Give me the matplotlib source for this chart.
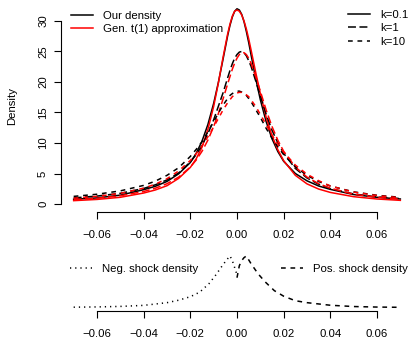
import matplotlib
matplotlib.use("Agg")
import matplotlib.pyplot as plt

plt.rcParams['font.family'] = ['Liberation Sans', 'DejaVu Sans']
plt.rcParams['font.size'] = 8.2

x = [-0.07, -0.06, -0.05, -0.04, -0.035, -0.03, -0.025, -0.02, -0.0175, -0.015,
     -0.0125, -0.01, -0.008, -0.006, -0.004, -0.003, -0.002, -0.001, 0.0, 0.001,
     0.002, 0.003, 0.004, 0.005, 0.006, 0.008, 0.01, 0.0125, 0.015, 0.0175,
     0.02, 0.025, 0.03, 0.035, 0.04, 0.05, 0.06, 0.07]

# our density, k = 0.1 / 1 / 10
our_k01 = [0.78, 1.0, 1.45, 2.35, 2.9, 3.7, 4.95, 6.8, 8.3, 10.3,
           13.0, 16.5, 19.9, 23.7, 27.6, 29.3, 30.65, 31.6, 32.0, 31.8,
           31.1, 29.9, 28.3, 26.5, 24.5, 20.6, 17.1, 13.5, 10.7, 8.6,
           7.0, 5.0, 3.8, 2.95, 2.4, 1.55, 1.1, 0.82]
our_k1 = [1.0, 1.3, 1.75, 2.55, 3.15, 3.95, 5.1, 6.9, 8.1, 9.6,
          11.5, 13.8, 16.0, 18.2, 20.7, 21.9, 23.0, 23.9, 24.5, 24.9,
          25.0, 24.8, 24.3, 23.5, 22.6, 20.2, 17.7, 14.7, 12.1, 10.0,
          8.3, 5.83, 4.27, 3.23, 2.52, 1.65, 1.15, 0.9]
our_k10 = [1.25, 1.6, 2.15, 3.05, 3.75, 4.7, 5.95, 7.8, 8.95, 10.2,
           11.8, 13.5, 14.9, 16.2, 17.3, 17.8, 18.1, 18.35, 18.5, 18.5,
           18.35, 18.1, 17.8, 17.3, 16.8, 15.5, 14.2, 12.4, 10.8, 9.36,
           8.1, 6.1, 4.7, 3.68, 2.95, 1.99, 1.43, 1.1]

# generalised t(1) approximation, k = 0.1 / 1 / 10
t_k01 = [0.55, 0.75, 1.1, 1.8, 2.3, 3.0, 4.2, 6.0, 7.4, 9.3,
         12.2, 16.0, 19.8, 24.0, 27.9, 29.5, 30.8, 31.6, 31.8, 31.6,
         31.0, 30.0, 28.7, 27.1, 25.3, 21.6, 18.1, 14.2, 11.2, 8.9,
         7.1, 4.7, 3.3, 2.45, 1.9, 1.2, 0.82, 0.6]
t_k1 = [0.72, 0.95, 1.35, 2.05, 2.59, 3.33, 4.41, 6.06, 7.2, 8.64,
        10.45, 12.7, 14.8, 17.2, 19.7, 20.9, 22.1, 23.1, 23.9, 24.5,
        24.8, 24.8, 24.5, 23.9, 23.1, 20.9, 18.5, 15.4, 12.7, 10.45,
        8.64, 6.06, 4.41, 3.33, 2.59, 1.6, 1.1, 0.8]
t_k10 = [0.95, 1.25, 1.75, 2.6, 3.25, 4.15, 5.42, 7.14, 8.24, 9.53,
         11.0, 12.65, 14.0, 15.4, 16.6, 17.1, 17.6, 17.9, 18.2, 18.3,
         18.3, 18.2, 17.9, 17.6, 17.1, 16.0, 14.7, 13.0, 11.3, 9.8,
         8.5, 6.38, 4.89, 3.82, 2.95, 1.95, 1.38, 1.02]

# shock densities (lower panel)
x_neg = [-0.07, -0.06, -0.05, -0.04, -0.03, -0.025, -0.02, -0.016, -0.012, -0.009,
         -0.006, -0.004, -0.003, -0.002, -0.001, 0.0]
neg = [0.4, 0.6, 1.0, 1.8, 3.9, 5.8, 8.5, 12.0, 18.6, 25.5, 33.3, 37.9, 40.0, 36.4, 31.0, 25.5]
x_pos = [0.0, 0.001, 0.002, 0.003, 0.004, 0.006, 0.009, 0.012, 0.016, 0.02, 0.025,
         0.03, 0.04, 0.05, 0.06, 0.07]
pos = [23.2, 32.5, 36.4, 38.7, 40.0, 34.1, 26.3, 20.1, 13.2, 8.9, 5.4, 3.9, 1.9, 0.9, 0.5, 0.3]

xticks = [-0.06, -0.04, -0.02, 0.00, 0.02, 0.04, 0.06]
xlabels = ["\u22120.06", "\u22120.04", "\u22120.02", "0.00", "0.02", "0.04", "0.06"]

W, H = 408, 339
fig = plt.figure(figsize=(W / 100, H / 100), dpi=100)

lw = 1.1
solid = '-'
longdash = (0, (5.2, 2.3))
dashed = (0, (3.1, 3.1))
dotted = (0, (0.8, 2.6))

def px_axes(x0, x1, y0, y1):
    return fig.add_axes([x0 / W, 1 - y1 / H, (x1 - x0) / W, (y1 - y0) / H])

def r_axes(ax):
    for s in ['top', 'right']:
        ax.spines[s].set_visible(False)
    ax.spines['bottom'].set_bounds(-0.06, 0.06)
    ax.spines['bottom'].set_linewidth(0.8)
    ax.spines['left'].set_linewidth(0.8)
    ax.set_xlim(-0.0756, 0.0756)
    ax.set_xticks(xticks)
    ax.set_xticklabels(xlabels)
    ax.tick_params(axis='both', length=5, width=0.8, labelsize=8.2)
    ax.tick_params(axis='x', pad=8)
    ax.patch.set_visible(False)

def add_legend(ax, handles, labels, x0, ytop):
    return ax.legend(handles, labels, loc='upper left',
                     bbox_to_anchor=(x0 / W, 1 - ytop / H), bbox_transform=fig.transFigure,
                     frameon=False, borderpad=0, borderaxespad=0, handlelength=1.9,
                     handletextpad=0.9, labelspacing=0.3, fontsize=8.2)

# ---- top panel ----
ax = px_axes(60.6, 413.4, 0, 212)
r_axes(ax)
ax.set_ylim(-1.31, 33.44)
ax.set_yticks([0, 5, 10, 15, 20, 25, 30])
ax.spines['left'].set_bounds(0, 30)
for lab in ax.get_yticklabels():
    lab.set_rotation(90)
    lab.set_va('center')
ax.tick_params(axis='y', pad=4)

for ours, approx, ls in [(our_k01, t_k01, solid), (our_k1, t_k1, longdash), (our_k10, t_k10, dashed)]:
    ax.plot(x, ours, color='black', lw=lw, linestyle=ls)
    ax.plot(x, approx, color='red', lw=lw, linestyle=ls)

fig.text(11.7 / W, 1 - 106 / H, "Density", rotation=90, ha='center', va='center', fontsize=8.2)

h1 = [plt.Line2D([], [], color='black', lw=lw), plt.Line2D([], [], color='red', lw=lw)]
ax.add_artist(add_legend(ax, h1, ["Our density", "Gen. t(1) approximation"], 71, 11))
h2 = [plt.Line2D([], [], color='black', lw=lw, linestyle=s) for s in (solid, longdash, dashed)]
add_legend(ax, h2, ["k=0.1", "k=1", "k=10"], 348, 10)

# ---- bottom panel ----
ax2 = px_axes(60.6, 413.4, 245, 311)
r_axes(ax2)
ax2.set_ylim(-2.55, 48.5)
ax2.spines['left'].set_visible(False)
ax2.set_yticks([])

ax2.plot(x_neg, neg, color='black', lw=lw, linestyle=dotted)
ax2.plot(x_pos, pos, color='black', lw=lw, linestyle=dashed)

ax2.add_artist(add_legend(ax2, [plt.Line2D([], [], color='black', lw=lw, linestyle=dotted)],
                          ["Neg. shock density"], 70, 263.5))
add_legend(ax2, [plt.Line2D([], [], color='black', lw=lw, linestyle=dashed)],
           ["Pos. shock density"], 281, 263.5)

fig.savefig("out.png", dpi=100)
